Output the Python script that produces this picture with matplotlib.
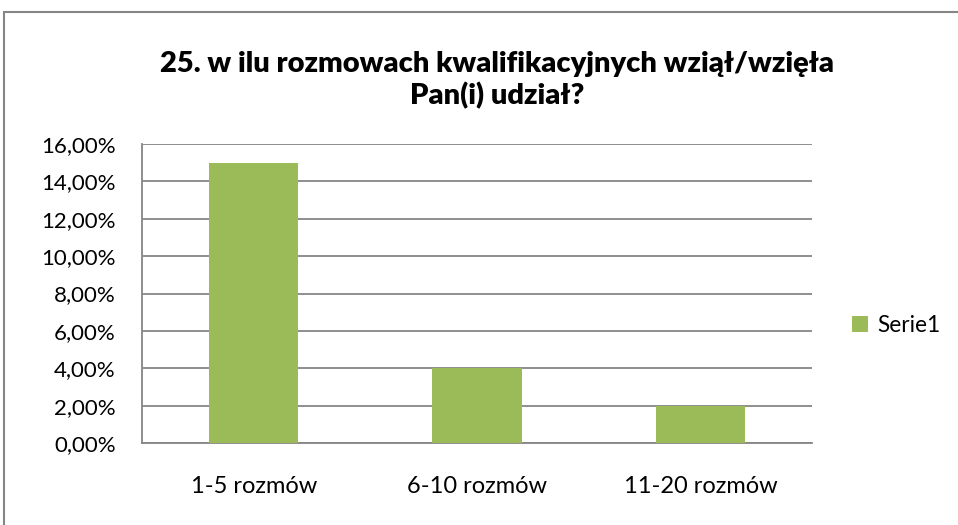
import matplotlib.pyplot as plt
from matplotlib.patches import Rectangle

categories = ["1-5 rozmów", "6-10 rozmów", "11-20 rozmów"]
values = [15.0, 4.0, 2.0]
yticks = [0, 2, 4, 6, 8, 10, 12, 14, 16]
series_name = "Serie1"
title = "25. w ilu rozmowach kwalifikacyjnych wziął/wzięła\nPan(i) udział?"

plt.rcParams['font.family'] = ['Lato', 'DejaVu Sans']

fig = plt.figure(figsize=(9.58, 5.25), dpi=100)
W, H = 958, 525
ax = fig.add_axes([142 / W, 1 - 443 / H, (812 - 142) / W, (443 - 144) / H])

grey = '#868686'
bars = ax.bar(range(len(values)), values, width=0.4, color='#9BBB59', label=series_name, zorder=3)

ax.set_xlim(-0.5, len(values) - 0.5)
ax.set_ylim(0, 16)
ax.set_yticks(yticks)
ax.set_yticklabels([f"{v:.2f}".replace('.', ',') + "%" for v in yticks], fontsize=16)
ax.set_xticks(range(len(values)))
ax.set_xticklabels(categories, fontsize=17)
ax.tick_params(axis='x', length=0, pad=24)
ax.tick_params(axis='y', length=0, pad=19)
ax.grid(axis='y', color=grey, linewidth=1.3, zorder=0)
for s in ['top', 'right']:
    ax.spines[s].set_visible(False)
for s in ['left', 'bottom']:
    ax.spines[s].set_color(grey)
    ax.spines[s].set_linewidth(1.3)

fig.text(497 / W, 1 - 80 / H, title, ha='center', va='center', fontsize=21,
         fontweight='heavy', linespacing=1.2)

fig.legend(handles=[bars], labels=[series_name], loc='center left',
           bbox_to_anchor=(832 / W, 1 - 325 / H), frameon=False, fontsize=16.3,
           handlelength=0.7, handleheight=0.7, handletextpad=0.4)

fig.add_artist(Rectangle((4 / W, -0.05), 1.0, 1 - 12 / H + 0.05, transform=fig.transFigure,
                         fill=False, edgecolor=grey, linewidth=1.5))

fig.savefig("out.png", dpi=100)
